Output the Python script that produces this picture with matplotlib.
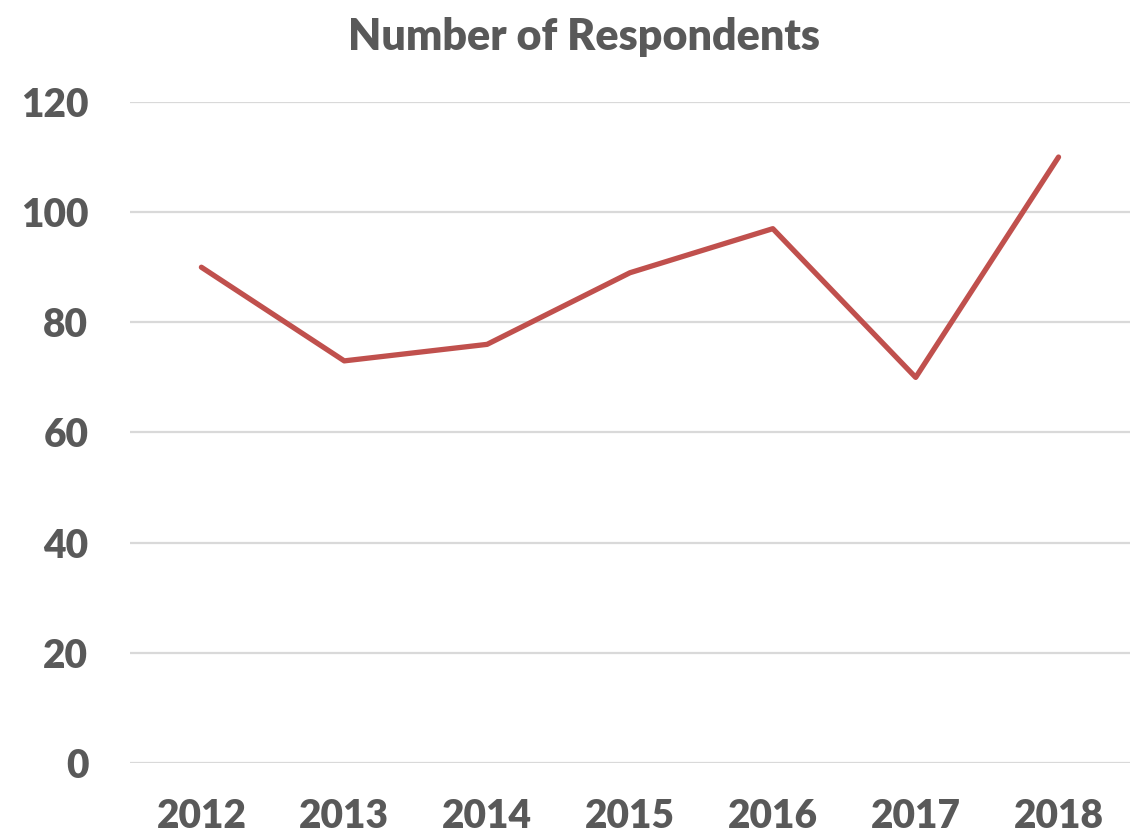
import matplotlib.pyplot as plt

years = ['2012', '2013', '2014', '2015', '2016', '2017', '2018']
respondents = [90, 73, 76, 89, 97, 70, 110]
y_ticks = [0, 20, 40, 60, 80, 100, 120]

plt.rcParams['font.family'] = ['Lato', 'DejaVu Sans']
text_color = '#595959'

fig = plt.figure(figsize=(11.43, 8.33), dpi=100)
ax = fig.add_axes([0.1137, 0.084, 0.8749, 0.7936])

x = range(len(years))
ax.plot(x, respondents, color='#C0504D', linewidth=3.8, solid_capstyle='round')

ax.set_xlim(-0.5, len(years) - 0.5)
ax.set_ylim(0, 120)
ax.set_xticks(list(x))
ax.set_xticklabels(years)
ax.set_yticks(y_ticks)

ax.grid(axis='y', color='#D9D9D9', linewidth=1.6)
ax.set_axisbelow(True)
for s in ax.spines.values():
    s.set_visible(False)
ax.tick_params(length=0, labelsize=28, labelcolor=text_color)
ax.tick_params(axis='y', pad=30)
ax.tick_params(axis='x', pad=25)
for lbl in ax.get_xticklabels() + ax.get_yticklabels():
    lbl.set_fontweight('heavy')

fig.suptitle('Number of Respondents', x=0.511, y=0.98, fontsize=31,
             fontweight='heavy', color=text_color)

fig.savefig('out.png', dpi=100)
